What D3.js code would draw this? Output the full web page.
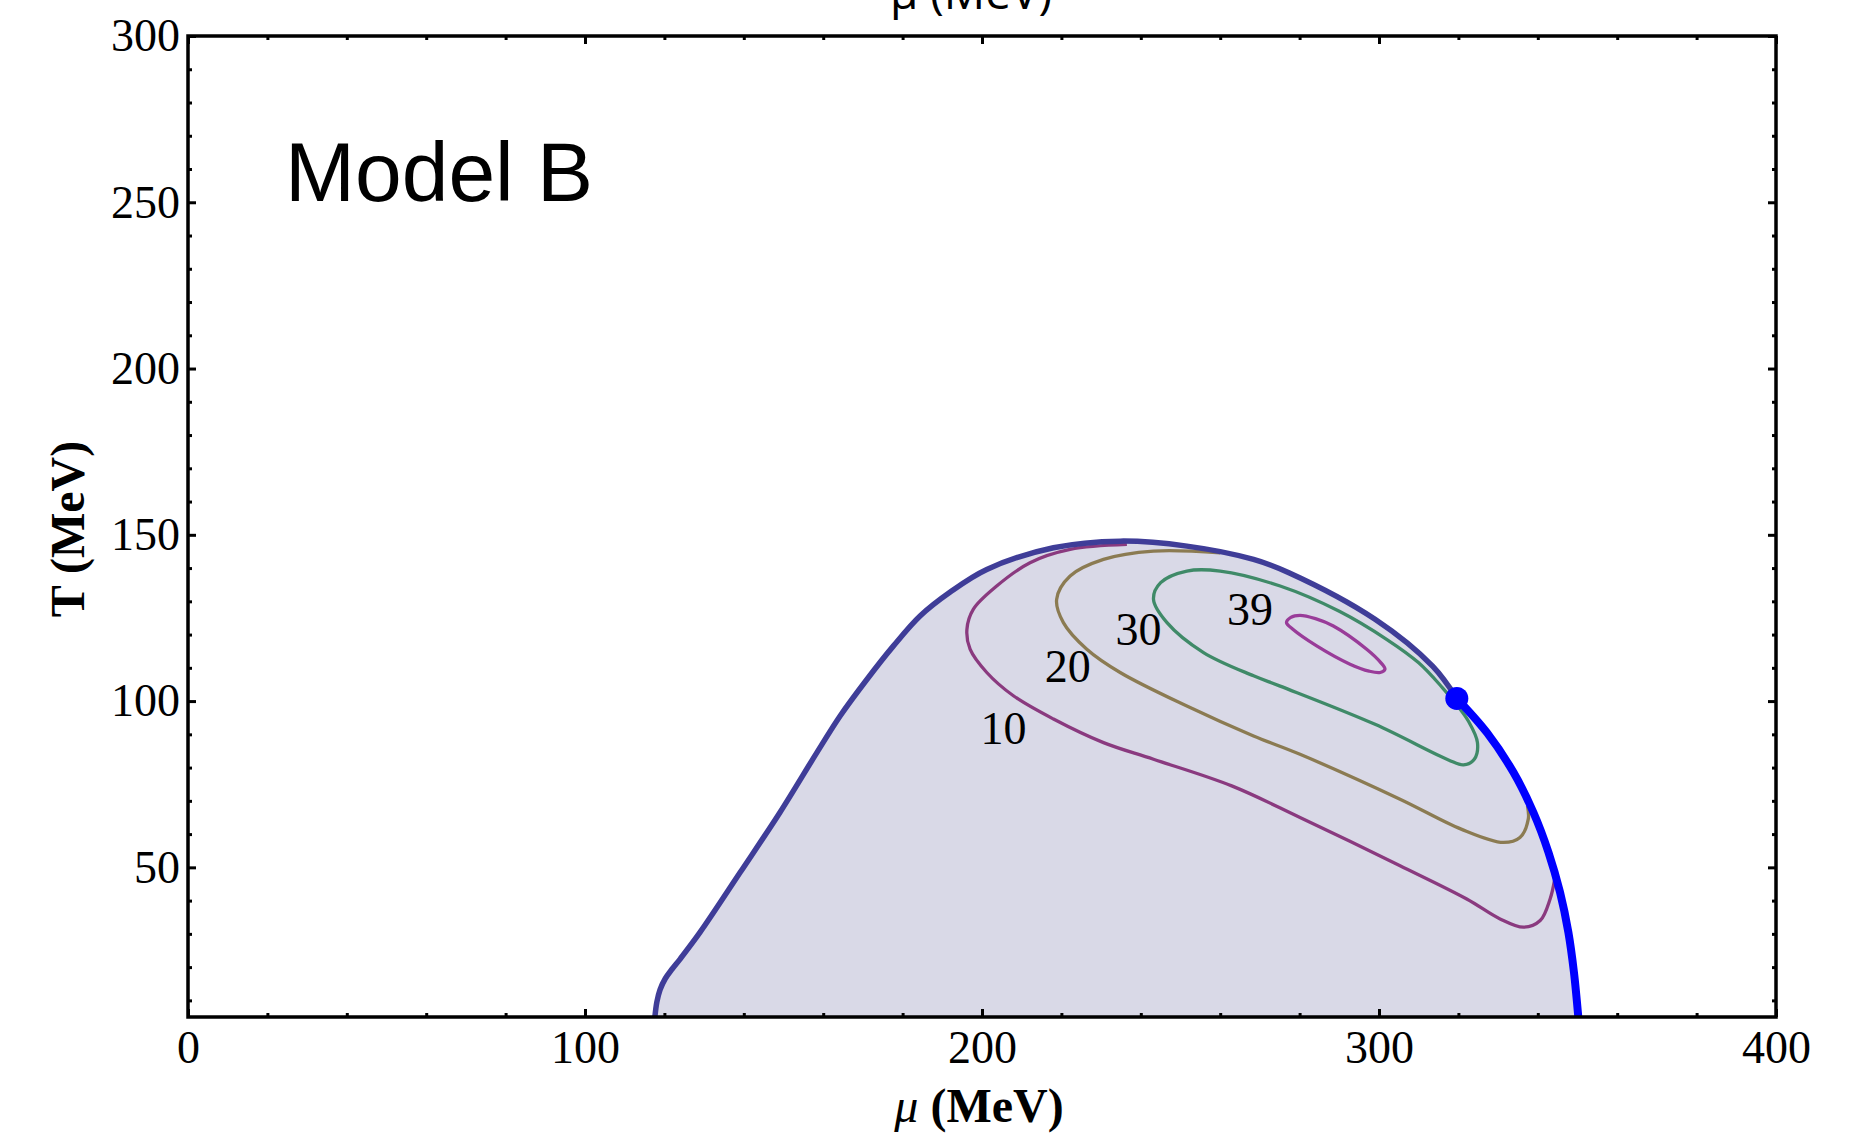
<!DOCTYPE html>
<html>
<head>
<meta charset="utf-8">
<script src="https://cdn.jsdelivr.net/npm/d3@7"></script>
<style>
  body { margin: 0; background: #fff; }
  svg { display: block; }
  .tick text { font-family: "Liberation Serif", "Times New Roman", serif; font-size: 46px; fill: #000; }
  .domain { display: none; }
  .tick line { stroke: #000; stroke-width: 3; }
</style>
</head>
<body>
<div id="chart"></div>
<script>
// phase boundary (mu, T) in MeV
var outerBoundary = [[117.6,5],[118.1,9.5],[118.9,13.2],[120.2,16.5],[122,19.5],[124,22.5],[129,30.5],
  [139.1,48.5],[149.1,66.5],[158.4,84.5],[164.3,95.6],[171,106.5],[177.7,116.6],[184.4,125.6],[192,132.8],
  [201.2,139.6],[218,146.1],[234.8,148.1],[251.6,146.6],[268.4,142.6],[277.3,138.6],[299,124.6],
  [313.5,110.5],[319.6,100.8]];
// first order line below the critical point
var firstOrderLine = [[319.6,100.8],[327.2,90.5],[333.9,78.5],[338.9,66.5],[342.7,54.5],[345.6,42.5],
  [347.7,30.5],[349.1,18.5],[350.2,5]];
var criticalPoint = [319.6, 100.8];

var contour10 = [[236.5,147.1],[222.2,145.6],[212.1,141.6],[203.7,134.6],[197.8,127.6],[196.2,121.6],
  [197,115.6],[201.2,108.6],[207.9,101.6],[218,94.6],[230.6,87.5],[243.2,82.5],[262.9,74.5],[280.1,65],
  [305.3,50.5],[322.1,40.5],[330.5,34.5],[336.4,32],[340.6,34],[343.1,40.5],[344.2,46]];
var contour20 = [[260,144.6],[243.2,145.1],[230.6,142.6],[222.2,137.6],[218.8,130.6],[220.5,123.6],
  [226.4,115.6],[234.8,108.6],[251.6,98.5],[268.4,89.5],[280.1,84],[305.3,70.5],[320.7,61.5],[331.3,57.5],
  [335.5,59],[337.6,64.5],[337.4,68.5]];
var contour30 = [[251.6,139.1],[260,139.1],[275.1,134.6],[290,127],[302,118.5],[310,111.5],[316,104],
  [319.5,99],[322.5,94],[324.8,87.5],[324,82.5],[321.3,80.8],[317.5,82.3],[299,93],[275.1,104.5],
  [268.4,107.6],[255.8,114.6],[246.6,123.6],[243.2,130.6],[245,135.6]];
var contour39 = [[276.7,123.6],[277.8,125.2],[280.1,125.8],[284,124.8],[288.5,122.6],[296.9,115.6],
  [300.5,111.5],[301.5,109.6],[300.3,108.6],[297.5,109],[292.7,111.1],[284.3,116.6],[278.3,121.6]];

var contourLabels = ["10", "20", "30", "39"];
var contourLabelPos = [[205.4,91.8],[221.6,110.6],[239.4,121.6],[267.5,127.6]];

var xTicks = [0, 100, 200, 300, 400];
var yTicks = [50, 100, 150, 200, 250, 300];

var svgWidth = 1865, svgHeight = 1135;
var margin = {top: 36, right: 89, bottom: 118, left: 188};
var width = svgWidth - margin.left - margin.right;
var height = svgHeight - margin.top - margin.bottom;

var svg = d3.select("#chart").append("svg")
  .attr("width", svgWidth)
  .attr("height", svgHeight);

var chartGroup = svg.append("g")
  .attr("transform", `translate(${margin.left}, ${margin.top})`);

var x = d3.scaleLinear().domain([0, 400]).range([0, width]);
var y = d3.scaleLinear().domain([5, 300]).range([height, 0]);

var line = d3.line().x(d => x(d[0])).y(d => y(d[1])).curve(d3.curveCatmullRom.alpha(0.5));
var closedLine = d3.line().x(d => x(d[0])).y(d => y(d[1])).curve(d3.curveCatmullRomClosed.alpha(0.5));

var plot = chartGroup.append("g");
plot.append("clipPath").attr("id", "clip")
  .append("rect").attr("width", width).attr("height", height);
plot.attr("clip-path", "url(#clip)");

// shaded region
var region = outerBoundary.concat(firstOrderLine.slice(1));
plot.append("path")
  .attr("d", line(region) + "Z")
  .attr("fill", "#d9d9e7")
  .attr("stroke", "none");

// contours
plot.append("path").attr("d", line(contour10)).attr("fill", "none")
  .attr("stroke", "#8a3a7f").attr("stroke-width", 3.3);
plot.append("path").attr("d", line(contour20)).attr("fill", "none")
  .attr("stroke", "#8b7b52").attr("stroke-width", 3.3);
plot.append("path").attr("d", closedLine(contour30)).attr("fill", "none")
  .attr("stroke", "#3f8a68").attr("stroke-width", 3.3);
plot.append("path").attr("d", closedLine(contour39)).attr("fill", "none")
  .attr("stroke", "#993c99").attr("stroke-width", 3.3);

// boundary and first order line
plot.append("path").attr("d", line(outerBoundary)).attr("fill", "none")
  .attr("stroke", "#3f3d98").attr("stroke-width", 5.5);
plot.append("path").attr("d", line(firstOrderLine)).attr("fill", "none")
  .attr("stroke", "#0000ff").attr("stroke-width", 8);
plot.append("circle")
  .attr("cx", x(criticalPoint[0])).attr("cy", y(criticalPoint[1]))
  .attr("r", 11.5).attr("fill", "#0000ff");

// contour labels
chartGroup.selectAll(".clabel")
  .data(contourLabels)
  .enter()
  .append("text")
  .attr("class", "clabel")
  .attr("x", (d, i) => x(contourLabelPos[i][0]))
  .attr("y", (d, i) => y(contourLabelPos[i][1]))
  .attr("dy", "0.35em")
  .attr("text-anchor", "middle")
  .style("font-family", "'Liberation Serif', serif")
  .style("font-size", "46px")
  .text(d => d);

// axes: major + minor ticks, all pointing inward
var xMinor = d3.range(0, 401, 20).filter(v => v % 100 !== 0);
var yMinor = d3.range(10, 300, 10).filter(v => v % 50 !== 0);

chartGroup.append("g").attr("transform", `translate(0, ${height})`)
  .call(d3.axisBottom(x).tickValues(xTicks).tickSizeInner(-8).tickSizeOuter(0).tickPadding(13).tickFormat(d3.format("d")));
chartGroup.append("g").attr("transform", `translate(0, ${height})`)
  .call(d3.axisBottom(x).tickValues(xMinor).tickSizeInner(-4).tickSizeOuter(0).tickFormat(""));
chartGroup.append("g")
  .call(d3.axisTop(x).tickValues(xTicks).tickSizeInner(-8).tickSizeOuter(0).tickFormat(""));
chartGroup.append("g")
  .call(d3.axisTop(x).tickValues(xMinor).tickSizeInner(-4).tickSizeOuter(0).tickFormat(""));

chartGroup.append("g")
  .call(d3.axisLeft(y).tickValues(yTicks).tickSizeInner(-8).tickSizeOuter(0).tickPadding(8).tickFormat(d3.format("d")));
chartGroup.append("g")
  .call(d3.axisLeft(y).tickValues(yMinor).tickSizeInner(-4).tickSizeOuter(0).tickFormat(""));
chartGroup.append("g").attr("transform", `translate(${width}, 0)`)
  .call(d3.axisRight(y).tickValues(yTicks).tickSizeInner(-8).tickSizeOuter(0).tickFormat(""));
chartGroup.append("g").attr("transform", `translate(${width}, 0)`)
  .call(d3.axisRight(y).tickValues(yMinor).tickSizeInner(-4).tickSizeOuter(0).tickFormat(""));

// frame
chartGroup.append("rect")
  .attr("width", width).attr("height", height)
  .attr("fill", "none").attr("stroke", "#000").attr("stroke-width", 3.5);

// labels
chartGroup.append("text")
  .attr("x", 97).attr("y", 165)
  .style("font-family", "'Liberation Sans', Arial, sans-serif")
  .style("font-size", "84px")
  .text("Model B");

var xLabel = svg.append("text")
  .attr("x", 979).attr("y", 1122)
  .attr("text-anchor", "middle")
  .style("font-family", "'Liberation Serif', serif")
  .style("font-size", "48px")
  .style("font-weight", "bold");
xLabel.append("tspan").style("font-style", "italic").style("font-weight", "normal").text("μ");
xLabel.append("tspan").text(" (MeV)");

svg.append("text")
  .attr("transform", "translate(84, 529) rotate(-90)")
  .attr("text-anchor", "middle")
  .style("font-family", "'Liberation Serif', serif")
  .style("font-size", "48px")
  .style("font-weight", "bold")
  .text("T (MeV)");

// cut-off axis title of the panel above
svg.append("text")
  .attr("x", 971).attr("y", 9)
  .attr("text-anchor", "middle")
  .style("font-family", "'Open Sans', sans-serif")
  .style("font-size", "46px")
  .text("μ (MeV)");
</script>
</body>
</html>
